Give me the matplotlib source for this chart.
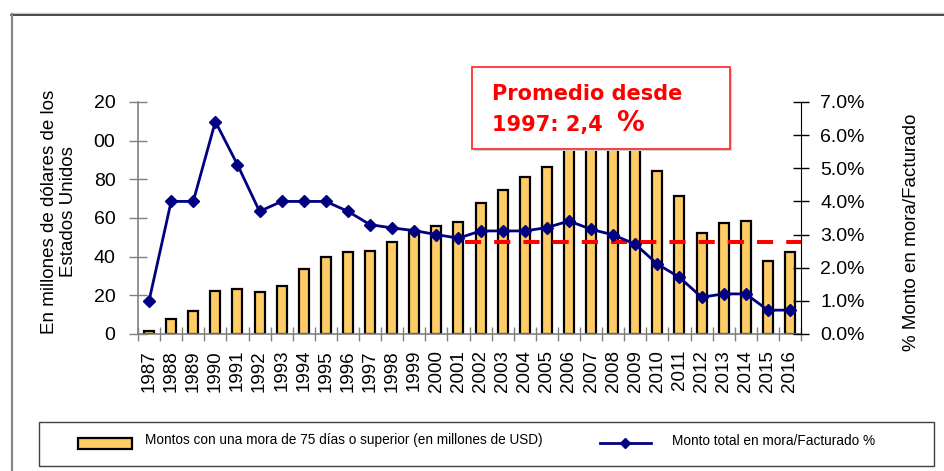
import numpy as np
import matplotlib
matplotlib.use('Agg')
import matplotlib.pyplot as plt
import matplotlib.ticker as ticker
from matplotlib.patches import Rectangle
from matplotlib.lines import Line2D

plt.rcParams['font.family'] = ['Liberation Sans', 'DejaVu Sans']

years = list(range(1987, 2017))
# amounts overdue 75 days or more (millions USD), left axis
montos = [1.5, 8, 12, 22.5, 23.5, 21.5, 25, 33.5, 40, 42.5, 43, 47.5, 53, 56,
          58, 68, 74.5, 81, 86.5, 101, 108, 104, 99, 84.5, 71.5, 52.5, 57.5, 58.5, 38, 42.5]
# total overdue / invoiced (%), right axis
pct = [1.0, 4.0, 4.0, 6.41, 5.11, 3.7, 4.0, 4.0, 4.0, 3.7, 3.3, 3.2, 3.12, 3.0,
       2.89, 3.11, 3.11, 3.11, 3.21, 3.41, 3.16, 2.99, 2.71, 2.11, 1.71, 1.11, 1.21, 1.21, 0.72, 0.72]
promedio_nivel = 2.79
promedio_desde = 14.3
left_ticks = [0, 20, 40, 60, 80, 100, 120]
left_labels = ['0', '20', '40', '60', '80', '00', '20']
right_ticks = [0, 1, 2, 3, 4, 5, 6, 7]

W, H = 944, 471
fig = plt.figure(figsize=(W / 100, H / 100), dpi=100)


def fx(px):
    return px / W


def fy(py):
    return 1 - py / H


ax = fig.add_axes([fx(138), fy(334), fx(801) - fx(138), fy(102) - fy(334)])
ax2 = ax.twinx()

x = np.arange(len(years))
ax.bar(x, montos, width=0.45, color='#FFCC66', edgecolor='black', linewidth=1.6, zorder=2)
ax.set_xlim(-0.5, len(years) - 0.5)
ax.set_ylim(0, 120)
ax.set_yticks(left_ticks)
ax.set_yticklabels(left_labels)
ax.set_xticks(x)
ax.set_xticklabels([str(y) for y in years], rotation=90)
ax.set_xticks(np.arange(-0.5, len(years), 1), minor=True)

ax.tick_params(axis='y', direction='inout', length=13, width=1, color='#808080',
               pad=9.7, labelsize=14)
ax.tick_params(axis='x', which='major', length=0, pad=11.5, labelsize=13.5)
ax.tick_params(axis='x', which='minor', direction='inout', length=10, width=1, color='#808080')
for s in ['top', 'right']:
    ax.spines[s].set_visible(False)
for s in ['left', 'bottom']:
    ax.spines[s].set_color('#808080')
    ax.spines[s].set_linewidth(1.2)

ax2.plot([promedio_desde, len(years) - 0.45], [promedio_nivel, promedio_nivel],
         color='#FF0000', linewidth=2.9, dashes=(4, 3.25), clip_on=False, zorder=2)
ax2.plot(x, pct, color='#000080', linewidth=2.0, marker='D', markersize=6.5,
         zorder=3, clip_on=False)
ax2.set_ylim(0, 7)
ax2.set_yticks(right_ticks)
ax2.yaxis.set_major_formatter(ticker.FuncFormatter(lambda v, p: f'{v:.1f}%'))
ax2.tick_params(axis='y', direction='inout', length=12, width=1, color='black',
                pad=8, labelsize=14)
for s in ['top', 'left', 'bottom']:
    ax2.spines[s].set_visible(False)
ax2.spines['right'].set_color('black')

# axis titles
fig.text(fx(59), fy(212), 'En millones de dólares de los\nEstados Unidos', rotation=90,
         ha='center', va='center', fontsize=13.5, linespacing=1.15)
fig.text(fx(911), fy(232), '% Monto en mora/Facturado', rotation=90,
         ha='center', va='center', fontsize=13.5)

# outer frame
fig.add_artist(Line2D([fx(11), 1], [fy(13), fy(13)], color='#c8c8c8', linewidth=1))
fig.add_artist(Line2D([fx(11), 1], [fy(14.5), fy(14.5)], color='#2b2b2b', linewidth=1.2))
fig.add_artist(Line2D([fx(11.5), fx(11.5)], [fy(14), 0], color='#888888', linewidth=1.6))

# average box
fig.add_artist(Rectangle((fx(474), fy(151)), fx(730) - fx(472), fy(67) - fy(149),
                         facecolor='#d0d0d0', edgecolor='none', zorder=5))
fig.add_artist(Rectangle((fx(472), fy(149)), fx(730) - fx(472), fy(67) - fy(149),
                         facecolor='white', edgecolor='#FF3333', linewidth=1.3, zorder=6))
fig.text(fx(492), fy(100), 'Promedio desde', color='#FF0000', fontsize=15,
         fontweight='bold', family='DejaVu Sans', va='baseline', zorder=7)
fig.text(fx(492), fy(131), '1997: 2,4', color='#FF0000', fontsize=15,
         fontweight='bold', family='DejaVu Sans', va='baseline', zorder=7)
fig.text(fx(616), fy(131), '%', color='#FF0000', fontsize=20,
         fontweight='bold', family='DejaVu Sans', va='baseline', zorder=7)

# legend
fig.add_artist(Rectangle((fx(39), fy(466)), fx(934) - fx(39), fy(422) - fy(466),
                         facecolor='white', edgecolor='#404040', linewidth=1, zorder=5))
fig.add_artist(Rectangle((fx(78), fy(449)), fx(132) - fx(78), fy(438) - fy(449),
                         facecolor='#FFCC66', edgecolor='black', linewidth=1.6, zorder=6))
fig.text(fx(145), fy(440), 'Montos con una mora de 75 días o superior (en millones de USD)',
         fontsize=9.8, va='center', zorder=7)
fig.add_artist(Line2D([fx(600), fx(625), fx(651)], [fy(443)] * 3, color='#000080',
                      linewidth=2.0, marker='D', markersize=5, markevery=[1], zorder=6))
fig.text(fx(672), fy(441), 'Monto total en mora/Facturado %',
         fontsize=9.8, va='center', zorder=7)

fig.savefig('out.png', dpi=100)
